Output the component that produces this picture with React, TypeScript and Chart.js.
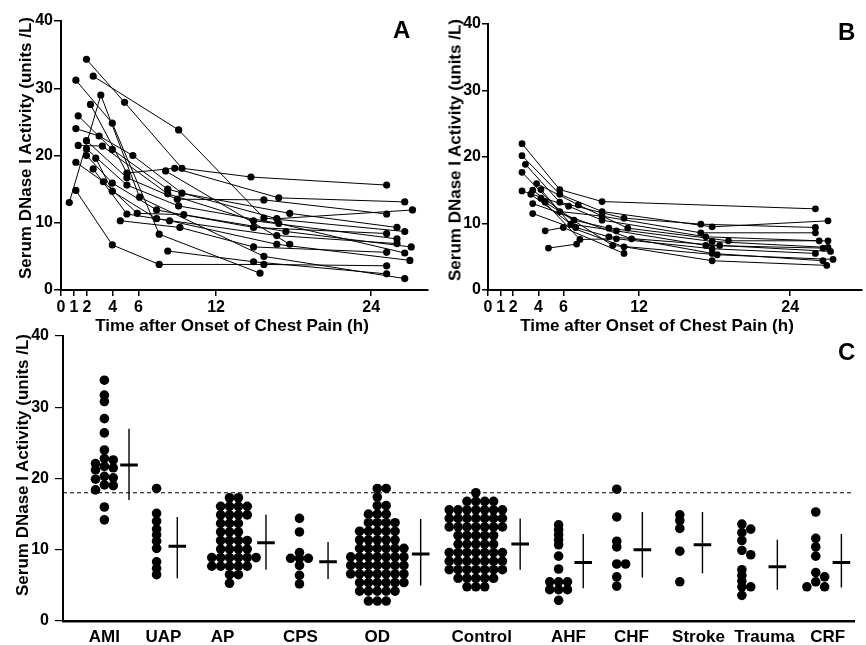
import React, { useEffect, useRef } from "react";
import { Chart, registerables } from "chart.js";

Chart.register(...registerables);

const FONT = "'Liberation Sans', Arial, Helvetica, sans-serif";

// ---------- Panel A / B : serial measurements per patient [hours, units/L] ----------
const seriesA: number[][][] = [
  [[0.64, 13.0], [3.08, 29.0], [6.08, 13.8], [15.7, 5.0], [26.6, 1.7]],
  [[1.97, 34.3], [4.92, 27.9], [9.36, 18.1], [14.7, 16.8], [25.2, 15.6]],
  [[2.49, 31.8], [9.1, 23.8], [15.7, 10.7], [26.6, 8.7]],
  [[1.15, 31.2], [3.97, 24.8], [7.6, 8.3], [15.4, 2.5]],
  [[2.28, 27.6], [5.1, 17.4], [8.8, 18.1], [16.85, 13.7], [26.6, 13.1]],
  [[1.33, 25.9], [3.97, 20.9], [8.26, 15.0], [16.7, 10.6], [27.2, 11.9]],
  [[1.15, 24.0], [2.95, 22.9], [5.56, 20.0], [9.36, 14.4], [17.7, 11.4], [26.0, 9.3]],
  [[1.97, 22.2], [5.1, 16.7], [9.0, 13.5], [15.7, 13.4], [25.2, 11.3]],
  [[1.33, 21.5], [3.2, 21.4], [8.26, 14.3], [14.9, 10.3], [26.0, 7.6]],
  [[1.97, 21.0], [5.1, 15.6], [9.1, 12.5], [16.85, 9.9], [26.6, 5.5]],
  [[1.97, 20.0], [3.97, 15.9], [7.4, 11.9], [14.9, 9.3], [25.2, 8.4]],
  [[2.69, 19.6], [3.97, 14.7], [7.4, 10.6], [16.7, 8.1], [26.0, 6.9]],
  [[1.15, 19.0], [3.28, 16.1], [5.9, 11.4], [9.5, 11.2], [17.4, 8.7], [27.1, 6.4]],
  [[2.49, 18.0], [5.1, 11.3], [8.4, 10.3], [16.7, 6.8], [27.0, 4.4]],
  [[1.15, 14.8], [3.97, 6.7], [7.6, 3.8], [15.7, 3.8], [25.2, 3.6]],
  [[4.59, 10.3], [9.2, 9.3], [14.9, 6.4], [25.2, 5.6]],
  [[8.26, 5.8], [14.9, 4.2], [25.2, 2.4]],
  [[8.1, 17.7], [17.7, 6.8]],
];

const seriesB: number[][][] = [
  [[2.7, 22.0], [5.7, 15.1], [9.06, 13.3], [26.0, 12.2]],
  [[2.7, 20.2], [5.7, 14.4], [9.06, 11.8], [17.8, 9.5], [27.0, 10.4]],
  [[2.97, 18.9], [5.7, 13.2], [10.8, 10.8], [16.9, 9.9], [26.0, 9.4]],
  [[2.7, 17.7], [5.7, 11.8], [9.06, 11.1], [16.9, 8.6], [26.0, 8.6]],
  [[2.7, 14.9], [6.4, 12.6], [9.06, 10.5], [17.3, 8.0], [26.3, 7.4]],
  [[3.86, 16.0], [7.17, 12.8], [11.1, 9.3], [19.1, 7.4], [27.0, 7.4]],
  [[3.55, 15.0], [6.83, 10.5], [9.6, 9.3], [17.8, 7.3], [27.0, 6.4]],
  [[4.2, 15.1], [6.57, 9.9], [10.2, 8.9], [17.3, 6.7], [26.6, 6.3]],
  [[3.4, 14.4], [6.96, 9.4], [9.6, 8.0], [18.4, 6.7], [27.2, 5.8]],
  [[4.2, 13.8], [7.3, 7.6], [10.2, 7.7], [17.8, 6.2], [26.0, 5.5]],
  [[4.54, 13.2], [9.9, 6.7], [18.2, 5.3], [27.4, 4.6]],
  [[3.55, 13.0], [11.4, 7.7], [17.8, 5.5], [26.6, 4.4]],
  [[3.55, 11.5], [10.8, 6.5], [17.8, 4.4], [26.9, 3.7]],
  [[4.54, 8.9], [5.98, 9.4], [10.8, 5.5]],
  [[4.8, 6.3], [7.04, 6.9]],
];

const timeTicks = [0, 1, 2, 4, 6, 12, 24];
const activityTicks = [0, 10, 20, 30, 40];

// ---------- Panel C : single values per diagnostic group ----------
const groupNames = ["AMI", "UAP", "AP", "CPS", "OD", "Control", "AHF", "CHF", "Stroke", "Trauma", "CRF"];

const amiValues = [33.8, 31.7, 30.8, 28.4, 26.4, 24.0, 22.8, 22.6, 22.1, 21.7, 21.5, 21.2, 20.3, 20.1, 19.9, 19.1, 19.0, 18.4, 16.0, 14.2];
const uapValues = [18.6, 15.1, 14.0, 12.9, 12.1, 11.2, 10.2, 8.3, 7.4, 6.5];
const apValues = [17.3, 17.3, 16.1, 16.1, 16.1, 16.1, 14.9, 14.9, 14.9, 14.9, 13.7, 13.7, 13.7, 12.5, 12.5, 12.5,
  11.3, 11.3, 11.3, 11.3, 10.1, 10.1, 10.1, 10.1, 8.9, 8.9, 8.9, 8.9, 8.9, 8.9, 7.7, 7.7, 7.7, 7.7, 7.7, 6.5, 6.5, 5.3];
const cpsValues = [14.4, 12.5, 9.6, 8.8, 8.8, 8.8, 7.8, 6.4, 5.2];
const odValues = [18.6, 18.6, 17.4, 16.2, 16.2, 15.0, 15.0, 15.0,
  13.8, 13.8, 13.8, 13.8, 12.6, 12.6, 12.6, 12.6, 12.6, 11.4, 11.4, 11.4, 11.4, 11.4,
  10.2, 10.2, 10.2, 10.2, 10.2, 10.2, 9.0, 9.0, 9.0, 9.0, 9.0, 9.0, 9.0, 7.8, 7.8, 7.8, 7.8, 7.8, 7.8, 7.8,
  6.6, 6.6, 6.6, 6.6, 6.6, 6.6, 6.6, 5.4, 5.4, 5.4, 5.4, 5.4, 5.4, 4.2, 4.2, 4.2, 4.2, 4.2, 2.8, 2.8, 2.8];
const controlValues = [18.0, 16.8, 16.8, 16.8, 16.8, 15.6, 15.6, 15.6, 15.6, 15.6, 15.6, 15.6,
  14.4, 14.4, 14.4, 14.4, 14.4, 14.4, 14.4, 13.2, 13.2, 13.2, 13.2, 13.2, 13.2, 13.2, 12.0, 12.0, 12.0, 12.0, 12.0,
  10.8, 10.8, 10.8, 10.8, 10.8, 9.6, 9.6, 9.6, 9.6, 9.6, 9.6, 9.6, 8.4, 8.4, 8.4, 8.4, 8.4, 8.4, 8.4,
  7.2, 7.2, 7.2, 7.2, 7.2, 7.2, 7.2, 6.0, 6.0, 6.0, 6.0, 6.0, 4.8, 4.8, 4.8];
const ahfValues = [13.5, 12.8, 12.1, 11.4, 10.7, 9.1, 7.3, 5.5, 5.5, 5.5, 4.4, 4.4, 4.4, 2.9];
const chfValues = [18.5, 14.6, 11.2, 10.4, 8.0, 8.0, 6.2, 4.9];
const strokeValues = [14.9, 14.1, 13.0, 9.8, 5.5];
const traumaValues = [13.6, 12.9, 12.4, 11.3, 9.9, 9.3, 7.2, 6.4, 5.6, 4.8, 4.8, 3.6];
const crfValues = [15.3, 11.6, 10.4, 9.1, 6.8, 6.2, 5.5, 4.8, 4.8];

const groupValues = [amiValues, uapValues, apValues, cpsValues, odValues, controlValues, ahfValues, chfValues, strokeValues, traumaValues, crfValues];
const groupMean = [21.9, 10.5, 11.0, 8.3, 9.4, 10.8, 8.2, 10.0, 10.7, 7.6, 8.2];
const groupUpper = [27.0, 14.6, 14.9, 11.1, 14.3, 14.4, 12.2, 15.3, 15.3, 11.4, 12.2];
const groupLower = [17.0, 6.0, 7.2, 5.9, 5.0, 7.2, 4.6, 6.1, 6.7, 4.4, 4.7];
const cutoffValue = 18;

// ---------- layout (pixel units along panel C axis) ----------
const C_AXIS_LEN = 803;
const dotCenter = [42, 95, 169, 240, 319, 419, 503, 562, 626, 689, 764];
const meanCenter = [67, 116, 206, 269, 363, 464, 528, 588, 649, 725, 790];
const labelCenter = [42, 102, 162, 241, 319, 425, 513, 577, 645, 712, 776];
const swarmGap = [5.5, 5.5, 8, 5.5, 8, 8, 4.5, 5.5, 5.5, 5.5, 5.5];
const C_PPU = 7.125; // px per unit on panel C y axis
const SWARM_STEP = 9;

function swarm(values: number[], center: number, gap: number) {
  const sorted = [...values].sort((a, b) => b - a);
  const placed: { slot: number; py: number; v: number }[] = [];
  for (const v of sorted) {
    const py = v * C_PPU;
    let slot = 0;
    for (let i = 0; i < 60; i++) {
      const s = i === 0 ? 0 : (i % 2 ? 1 : -1) * Math.ceil(i / 2);
      if (!placed.some((p) => p.slot === s && Math.abs(p.py - py) < gap)) {
        slot = s;
        break;
      }
    }
    placed.push({ slot, py, v });
  }
  return placed.map((p) => ({ x: center + p.slot * SWARM_STEP, y: p.v }));
}

const tickFont = { family: FONT, size: 16, weight: "bold" as const };
const catFont = { family: FONT, size: 17, weight: "bold" as const };

function timePanelConfig(series: number[][][], o: { yWidth: number; xHeight: number; padTop: number; padRight: number; xMax: number; yTick: number; radius: number }) {
  return {
    type: "scatter" as const,
    data: {
      datasets: series.map((s) => ({
        data: s.map(([x, y]) => ({ x, y })),
        showLine: true,
        borderColor: "#000",
        borderWidth: 1,
        pointRadius: o.radius,
        pointBackgroundColor: "#000",
        pointBorderColor: "#000",
        pointBorderWidth: 0,
      })),
    },
    options: {
      responsive: false,
      animation: false as const,
      events: [] as any[],
      layout: { padding: { top: o.padTop, right: o.padRight, left: 0, bottom: 0 } },
      plugins: { legend: { display: false }, tooltip: { enabled: false } },
      scales: {
        x: {
          type: "linear" as const,
          min: 0,
          max: o.xMax,
          afterBuildTicks: (s: any) => {
            s.ticks = timeTicks.map((v) => ({ value: v }));
          },
          afterFit: (s: any) => {
            s.height = o.xHeight;
          },
          ticks: { autoSkip: false, maxRotation: 0, minRotation: 0, font: tickFont, color: "#000", padding: 2 },
          grid: { display: true, drawOnChartArea: false, drawTicks: true, tickLength: 6, color: "#000", lineWidth: 1.5 },
          border: { display: true, color: "#000", width: 2 },
        },
        y: {
          type: "linear" as const,
          min: 0,
          max: 40,
          afterBuildTicks: (s: any) => {
            s.ticks = activityTicks.map((v) => ({ value: v }));
          },
          afterFit: (s: any) => {
            s.width = o.yWidth;
          },
          ticks: { font: tickFont, color: "#000", padding: 1 },
          grid: { display: true, drawOnChartArea: false, drawTicks: true, tickLength: o.yTick, color: "#000", lineWidth: 1.5 },
          border: { display: true, color: "#000", width: 2 },
        },
      },
    },
  };
}

function groupPanelConfig() {
  const datasets: any[] = [];
  datasets.push({
    data: [{ x: 0, y: cutoffValue }, { x: C_AXIS_LEN, y: cutoffValue }],
    showLine: true,
    borderColor: "#000",
    borderWidth: 1.2,
    borderDash: [4, 3],
    pointRadius: 0,
  });
  groupValues.forEach((vals, i) => {
    datasets.push({
      data: swarm(vals, dotCenter[i], swarmGap[i]),
      pointRadius: 4.8,
      pointBackgroundColor: "#000",
      pointBorderColor: "#000",
      pointBorderWidth: 0,
      showLine: false,
    });
    datasets.push({
      data: [{ x: meanCenter[i], y: groupLower[i] }, { x: meanCenter[i], y: groupUpper[i] }],
      showLine: true,
      borderColor: "#000",
      borderWidth: 1.4,
      pointRadius: 0,
    });
  });
  datasets.push({
    data: groupMean.map((m, i) => ({ x: meanCenter[i], y: m })),
    showLine: false,
    pointStyle: "line",
    pointRadius: 8.8,
    pointBorderColor: "#000",
    pointBackgroundColor: "#000",
    pointBorderWidth: 3,
  });
  return {
    type: "scatter" as const,
    data: { datasets },
    options: {
      responsive: false,
      animation: false as const,
      events: [] as any[],
      layout: { padding: { top: 56, right: 0, left: 0, bottom: 0 } },
      plugins: { legend: { display: false }, tooltip: { enabled: false } },
      scales: {
        x: {
          type: "linear" as const,
          min: 0,
          max: C_AXIS_LEN,
          afterBuildTicks: (s: any) => {
            s.ticks = labelCenter.map((v) => ({ value: v }));
          },
          afterFit: (s: any) => {
            s.height = 24;
          },
          ticks: {
            autoSkip: false,
            maxRotation: 0,
            minRotation: 0,
            font: catFont,
            color: "#000",
            padding: 6,
            callback: (_v: any, idx: number) => groupNames[idx],
          },
          grid: { display: false, drawTicks: false },
          border: { display: true, color: "#000", width: 2.5 },
        },
        y: {
          type: "linear" as const,
          min: 0,
          max: 40,
          afterBuildTicks: (s: any) => {
            s.ticks = activityTicks.map((v) => ({ value: v }));
          },
          afterFit: (s: any) => {
            s.width = 63;
          },
          ticks: { font: tickFont, color: "#000", padding: 6 },
          grid: { display: true, drawOnChartArea: false, drawTicks: true, tickLength: 8, color: "#000", lineWidth: 1.2 },
          border: { display: true, color: "#000", width: 2 },
        },
      },
    },
  };
}

const textBase: React.CSSProperties = {
  position: "absolute",
  fontFamily: FONT,
  fontWeight: "bold",
  color: "#000",
  whiteSpace: "nowrap",
  lineHeight: 1,
};

function XTitle({ cx, cy }: { cx: number; cy: number }) {
  return (
    <div style={{ ...textBase, fontSize: 17, left: cx, top: cy, transform: "translate(-50%, -50%)" }}>
      Time after Onset of Chest Pain (h)
    </div>
  );
}

function YTitle({ cx, cy }: { cx: number; cy: number }) {
  return (
    <div style={{ ...textBase, fontSize: 17, left: cx, top: cy, transform: "translate(-50%, -50%) rotate(-90deg)" }}>
      Serum DNase I Activity (units /L)
    </div>
  );
}

function Letter({ x, y, t }: { x: number; y: number; t: string }) {
  return <div style={{ ...textBase, fontSize: 24, lineHeight: "24px", left: x, top: y }}>{t}</div>;
}

export default function App() {
  const aRef = useRef<HTMLCanvasElement>(null);
  const bRef = useRef<HTMLCanvasElement>(null);
  const cRef = useRef<HTMLCanvasElement>(null);

  useEffect(() => {
    document.body.style.margin = "0";
    const a = new Chart(
      aRef.current!,
      timePanelConfig(seriesA, { yWidth: 61, xHeight: 45, padTop: 21, padRight: 2, xMax: 28.4, yTick: 7, radius: 3.6 }) as any
    );
    const b = new Chart(
      bRef.current!,
      timePanelConfig(seriesB, { yWidth: 56, xHeight: 45, padTop: 24, padRight: 0, xMax: 29.7, yTick: 6, radius: 3.4 }) as any
    );
    const c = new Chart(cRef.current!, groupPanelConfig() as any);
    return () => {
      a.destroy();
      b.destroy();
      c.destroy();
    };
  }, []);

  return (
    <div style={{ position: "relative", width: 866, height: 645, background: "#fff", overflow: "hidden" }}>
      <canvas ref={aRef} width={432} height={335} style={{ position: "absolute", left: 0, top: 0, width: 432, height: 335 }} />
      <canvas ref={bRef} width={434} height={335} style={{ position: "absolute", left: 432, top: 0, width: 434, height: 335 }} />
      <canvas ref={cRef} width={866} height={365} style={{ position: "absolute", left: 0, top: 280, width: 866, height: 365 }} />
      <YTitle cx={25} cy={148} />
      <YTitle cx={455} cy={150} />
      <YTitle cx={22} cy={465} />
      <XTitle cx={232} cy={325} />
      <XTitle cx={657} cy={325} />
      <Letter x={393} y={18} t="A" />
      <Letter x={838} y={20} t="B" />
      <Letter x={838} y={340} t="C" />
    </div>
  );
}
